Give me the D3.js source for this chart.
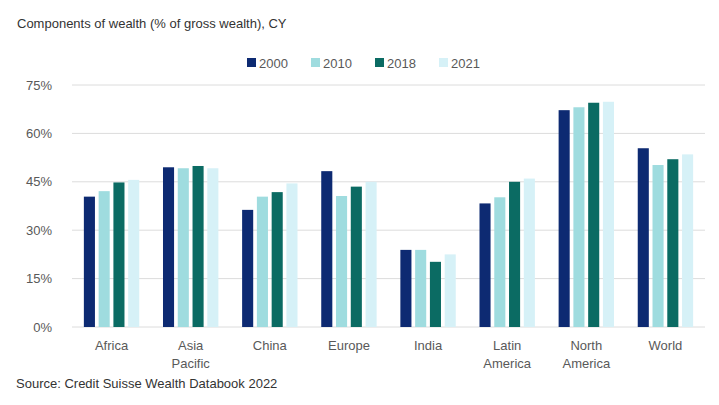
<!DOCTYPE html>
<html>
<head>
<meta charset="utf-8">
<script src="https://cdn.jsdelivr.net/npm/d3@7"></script>
<style>
  html, body { margin: 0; padding: 0; background: #fff; }
  svg { display: block; font-family: "Liberation Sans", Arial, sans-serif; }
</style>
</head>
<body>
<svg id="chart" width="719" height="405"></svg>
<script>
// Regions along the x axis (line breaks marked with \n)
const regions = ["Africa", "Asia\nPacific", "China", "Europe", "India", "Latin\nAmerica", "North\nAmerica", "World"];
const years = ["2000", "2010", "2018", "2021"];
// Share of gross wealth (%) per region, one array per year
const v2000 = [40.4, 49.5, 36.3, 48.3, 23.9, 38.3, 67.2, 55.4];
const v2010 = [42.1, 49.2, 40.4, 40.6, 23.9, 40.2, 68.1, 50.2];
const v2018 = [44.8, 49.9, 41.8, 43.5, 20.2, 45.0, 69.5, 52.0];
const v2021 = [45.6, 49.2, 44.5, 45.0, 22.5, 46.0, 69.8, 53.5];
const yTicks = [0, 15, 30, 45, 60, 75];
const colors = ["#0d2a72", "#9fdcdf", "#0b6b63", "#d6f1f7"];

const series = [v2000, v2010, v2018, v2021];
const svg = d3.select("#chart");

const margin = { left: 72, right: 14, top: 85, bottom: 78 };
const W = 719, H = 405;

const x0 = d3.scaleBand().domain(regions).range([margin.left, W - margin.right]).paddingInner(0.3).paddingOuter(0.15);
const x1 = d3.scaleBand().domain(years).range([0, x0.bandwidth()]).paddingInner(0.25);
const y = d3.scaleLinear().domain([0, 75]).range([H - margin.bottom, margin.top]);

// Gridlines
svg.append("g")
  .selectAll("line")
  .data(yTicks)
  .join("line")
  .attr("x1", margin.left).attr("x2", W - margin.right)
  .attr("y1", d => y(d)).attr("y2", d => y(d))
  .attr("stroke", "#dcdcdc").attr("stroke-width", 1);

// Y axis labels
const yAxis = d3.axisLeft(y).tickValues(yTicks).tickFormat(d => d + "%").tickSize(0).tickPadding(10);
svg.append("g")
  .attr("transform", `translate(${margin.left},0)`)
  .call(yAxis)
  .call(g => g.select(".domain").remove())
  .call(g => g.selectAll("text").attr("fill", "#595959").attr("font-size", 13).attr("x", -20));

// Bars
const groups = svg.append("g")
  .selectAll("g")
  .data(regions)
  .join("g")
  .attr("transform", d => `translate(${x0(d)},0)`);

groups.selectAll("rect")
  .data((d, i) => years.map((yr, j) => ({ yr, v: series[j][i], c: colors[j] })))
  .join("rect")
  .attr("x", d => x1(d.yr))
  .attr("width", x1.bandwidth())
  .attr("y", d => y(d.v))
  .attr("height", d => y(0) - y(d.v))
  .attr("fill", d => d.c);

// X axis labels
const xAxis = d3.axisBottom(x0).tickSize(0).tickPadding(14);
svg.append("g")
  .attr("transform", `translate(0,${y(0)})`)
  .call(xAxis)
  .call(g => g.select(".domain").remove())
  .call(g => g.selectAll("text").each(function(d) {
    const t = d3.select(this);
    const lines = d.split("\n");
    t.text(null).attr("fill", "#595959").attr("font-size", 13);
    lines.forEach((ln, k) => {
      t.append("tspan").attr("x", 0).attr("dy", k === 0 ? "0.71em" : "1.35em").text(ln);
    });
  }));

// Legend
const legendX = [247, 311, 375, 439];
const legend = svg.append("g");
years.forEach((yr, j) => {
  legend.append("rect").attr("x", legendX[j]).attr("y", 58).attr("width", 9).attr("height", 9).attr("fill", colors[j]);
  legend.append("text").attr("x", legendX[j] + 12).attr("y", 67.5).attr("fill", "#595959").attr("font-size", 13).text(yr);
});

// Title and source
svg.append("text").attr("x", 17).attr("y", 28).attr("fill", "#333").attr("font-size", 13).text("Components of wealth (% of gross wealth), CY");
svg.append("text").attr("x", 16).attr("y", 388).attr("fill", "#333").attr("font-size", 13).text("Source: Credit Suisse Wealth Databook 2022");
</script>
</body>
</html>
